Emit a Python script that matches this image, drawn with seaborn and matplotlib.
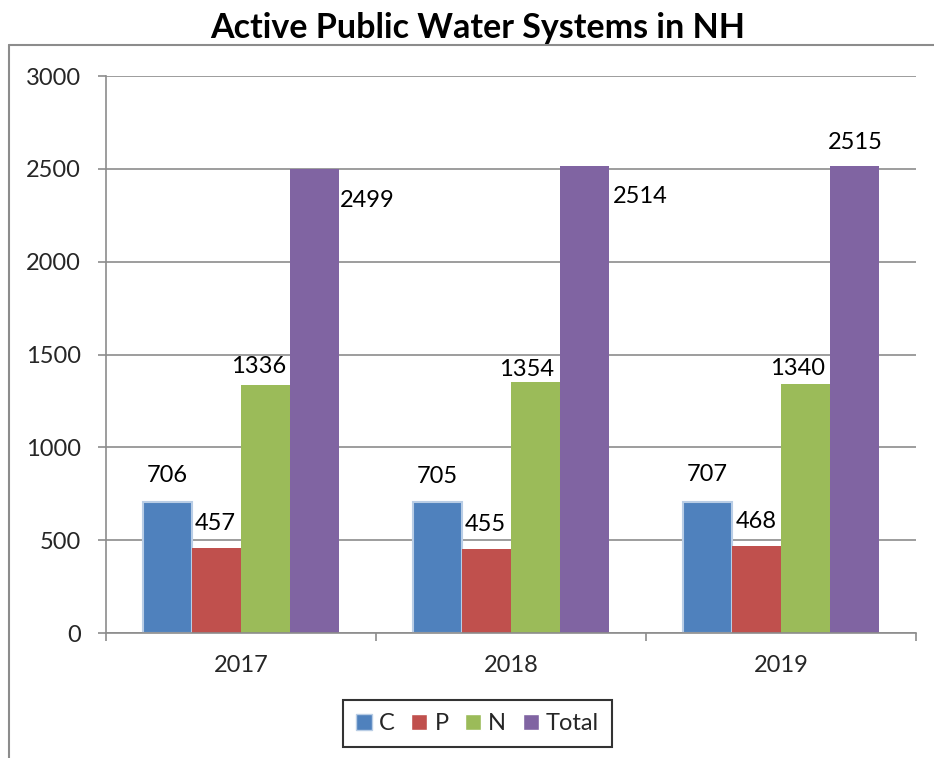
import pandas as pd
import seaborn as sns
import matplotlib.pyplot as plt
from matplotlib.lines import Line2D

years = ['2017', '2018', '2019']
series = ['C', 'P', 'N', 'Total']
c_vals = [706, 705, 707]
p_vals = [457, 455, 468]
n_vals = [1336, 1354, 1340]
total_vals = [2499, 2514, 2515]

colors = ['#4F81BD', '#C0504D', '#9BBB59', '#8064A2']

rows = []
for name, vals in zip(series, [c_vals, p_vals, n_vals, total_vals]):
    for yr, v in zip(years, vals):
        rows.append({'year': yr, 'series': name, 'value': v})
data = pd.DataFrame(rows)

sns.set_style('white')
plt.rcParams['font.family'] = ['Lato', 'DejaVu Sans']
FS = 17

fig = plt.figure(figsize=(9.34, 7.58), dpi=100)
ax = fig.add_axes([0.1135, 0.1649, 0.8672, 0.7348])

sns.barplot(data=data, x='year', y='value', hue='series', hue_order=series,
            palette=colors, width=0.726, gap=0, saturation=1, errorbar=None,
            legend=True, ax=ax)

# bar edges: light outline on C, none on others
for i, cont in enumerate(ax.containers):
    for p in cont:
        if i == 0:
            p.set_edgecolor('#B9CDE5')
            p.set_linewidth(1.5)
        else:
            p.set_edgecolor('none')

# data labels, offsets in pixels (Excel places them a bit unevenly)
label_offsets = {
    0: [(0, 26), (0, 26), (0, 27)],
    1: [(-1, 25), (-1, 24), (0, 25)],
    2: [(-7, 18), (-9, 12), (-8, 16)],
    3: [(53, -31), (56, -30), (1, 24)],
}
for i, cont in enumerate(ax.containers):
    for j, p in enumerate(cont):
        dx, dy = label_offsets[i][j]
        ax.annotate(f'{int(p.get_height())}',
                    (p.get_x() + p.get_width() / 2, p.get_height()),
                    xytext=(dx, dy), textcoords='offset pixels',
                    ha='center', va='center', fontsize=FS, color='black')

ax.set_ylim(0, 3000)
ax.set_yticks(range(0, 3001, 500))
ax.set_xlim(-0.5, 2.5)
ax.set_xlabel('')
ax.set_ylabel('')
ax.yaxis.grid(True, color='#8C8C8C', linewidth=1.2)
ax.set_axisbelow(True)

for side in ['top', 'right']:
    ax.spines[side].set_visible(False)
for side in ['left', 'bottom']:
    ax.spines[side].set_color('#8C8C8C')
    ax.spines[side].set_linewidth(1.2)

ax.set_xticks([-0.5, 0.5, 1.5, 2.5], minor=True)
ax.tick_params(axis='x', which='major', length=0, pad=16, labelsize=FS)
ax.tick_params(axis='x', which='minor', length=6, width=1.2, color='#8C8C8C',
               direction='out', bottom=True)
ax.tick_params(axis='y', length=6, width=1.2, color='#8C8C8C', direction='out',
               left=True, labelsize=FS, pad=12)

leg = ax.legend(loc='upper center', bbox_to_anchor=(0.4586, -0.1203), ncol=4,
                frameon=True, fancybox=False, fontsize=FS, handlelength=0.68,
                handleheight=0.68, handletextpad=0.3, columnspacing=0.7,
                borderpad=0.55, borderaxespad=0)
leg.get_frame().set_edgecolor('black')
leg.get_frame().set_linewidth(1.5)
leg.legend_handles[0].set_edgecolor('#B9CDE5')

fig.text(0.5118, 0.963, 'Active Public Water Systems in NH', ha='center',
         va='center', fontsize=24.5, fontweight='bold', color='black')

# outer chart frame (cut off at right and bottom)
fig.add_artist(Line2D([0.0096, 0.0096], [0, 0.9406], color='#8C8C8C', lw=1.5,
                      transform=fig.transFigure))
fig.add_artist(Line2D([0.0096, 1.0], [0.9406, 0.9406], color='#8C8C8C', lw=1.5,
                      transform=fig.transFigure))

plt.savefig('out.png', dpi=100)
